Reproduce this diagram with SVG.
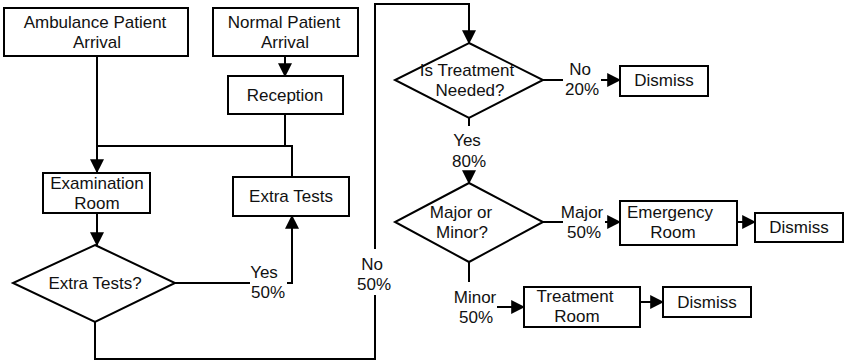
<svg xmlns="http://www.w3.org/2000/svg" width="845" height="364" viewBox="0 0 845 364">
<defs>
<marker id="arr" markerUnits="userSpaceOnUse" markerWidth="14" markerHeight="14" viewBox="0 0 12 12" refX="11" refY="6" orient="auto">
<path d="M0,0 L12,6 L0,12 Z" fill="#000"/>
</marker>
<style>
.box{fill:#fff;stroke:#000;stroke-width:2}
.ln{fill:none;stroke:#000;stroke-width:2}
text{font-family:"Liberation Sans",Arial,sans-serif;font-size:17px;fill:#111;text-anchor:middle}
</style>
</defs>
<rect width="845" height="364" fill="#fff"/>
<g id="connectors">
<path class="ln" d="M97,56 V172" marker-end="url(#arr)"/>
<path class="ln" d="M285,56 V76" marker-end="url(#arr)"/>
<path class="ln" d="M285,114 V146"/>
<path class="ln" d="M97,146 H292 V177"/>
<path class="ln" d="M97,213 V245" marker-end="url(#arr)"/>
<path class="ln" d="M175,283 H250"/>
<path class="ln" d="M287,283 H292 V216" marker-end="url(#arr)"/>
<path class="ln" d="M95,322 V359 H375 V295"/>
<path class="ln" d="M375,249 V4 H469 V43" marker-end="url(#arr)"/>
<path class="ln" d="M543,80 H563"/>
<path class="ln" d="M601,80 H620" marker-end="url(#arr)"/>
<path class="ln" d="M469,118 V126"/>
<path class="ln" d="M469,172 V183" marker-end="url(#arr)"/>
<path class="ln" d="M543,222 H563"/>
<path class="ln" d="M605,222 H620" marker-end="url(#arr)"/>
<path class="ln" d="M737,222 H755" marker-end="url(#arr)"/>
<path class="ln" d="M469,262 V282"/>
<path class="ln" d="M497,307 H524" marker-end="url(#arr)"/>
<path class="ln" d="M640,302 H663" marker-end="url(#arr)"/>
<text x="264" y="278">Yes</text><text x="268" y="298">50%</text>
<text x="372" y="270">No</text><text x="374" y="290">50%</text>
<text x="580" y="75">No</text><text x="582" y="95">20%</text>
<text x="467" y="146">Yes</text><text x="469" y="167">80%</text>
<text x="582" y="218">Major</text><text x="584" y="238">50%</text>
<text x="475" y="303">Minor</text><text x="476" y="323">50%</text>
</g>
<g id="ambulance"><rect class="box" x="4" y="8" width="184" height="48"/><text x="95" y="28">Ambulance Patient</text><text x="97" y="48">Arrival</text></g>
<g id="normal"><rect class="box" x="213" y="8" width="145" height="48"/><text x="284" y="28">Normal Patient</text><text x="285" y="48">Arrival</text></g>
<g id="reception"><rect class="box" x="228" y="76" width="115" height="38"/><text x="285" y="101">Reception</text></g>
<g id="exam"><rect class="box" x="43" y="173" width="107" height="40"/><text x="97" y="189">Examination</text><text x="97" y="209">Room</text></g>
<g id="extratests"><rect class="box" x="233" y="177" width="116" height="39"/><text x="291" y="202">Extra Tests</text></g>
<g id="extratestsq"><polygon class="box" points="95,245 175,283 95,322 13,283"/><text x="95" y="289">Extra Tests?</text></g>
<g id="treatmentq"><polygon class="box" points="469,43 543,80 469,118 395,80"/><text x="467" y="76">Is Treatment</text><text x="470" y="96">Needed?</text></g>
<g id="dismiss1"><rect class="box" x="620" y="66" width="88" height="30"/><text x="664" y="86">Dismiss</text></g>
<g id="majorq"><polygon class="box" points="469,183 543,222 469,262 395,222"/><text x="461" y="218">Major or</text><text x="462" y="238">Minor?</text></g>
<g id="emergency"><rect class="box" x="620" y="201" width="117" height="44"/><text x="670" y="218">Emergency</text><text x="673" y="238">Room</text></g>
<g id="dismiss2"><rect class="box" x="755" y="213" width="88" height="29"/><text x="799" y="233">Dismiss</text></g>
<g id="treatment"><rect class="box" x="524" y="287" width="116" height="40"/><text x="575" y="302">Treatment</text><text x="577" y="322">Room</text></g>
<g id="dismiss3"><rect class="box" x="663" y="287" width="88" height="30"/><text x="707" y="308">Dismiss</text></g>
</svg>
